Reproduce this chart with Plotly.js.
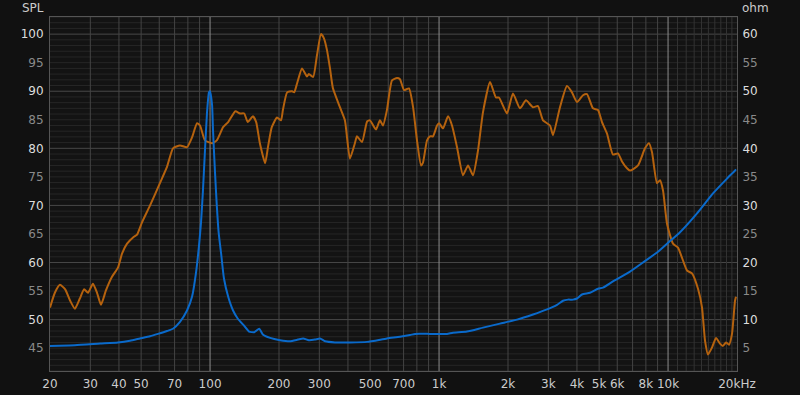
<!DOCTYPE html>
<html>
<head>
<meta charset="utf-8">
<script src="https://cdn.plot.ly/plotly-3.0.1.min.js"></script>
<style>
html,body{margin:0;padding:0;background:#111111;}
#chart{width:800px;height:395px;}
</style>
</head>
<body>
<div id="chart"></div>
<script>
// SPL response (dB)
const freqSpl = [20,21.0,22.1,23.3,24.5,25.7,27.0,28.2,29.3,30.8,32.1,33.4,35.1,37.3,39.6,41.3,43.4,46.1,48.0,50.4,54.7,60.4,64.9,68.9,73.9,79.3,83.4,87.7,90.4,95.0,102,107,114,120,129,135,141,146,154,159,165,174,179,186,196,204,208,217,228,233,240,252,265,270,282,293,305,314,324,334,344,369,388,408,429,438,461,485,499,530,552,569,592,623,655,675,703,739,770,801,834,851,886,913,941,980,1000,1041,1094,1139,1198,1272,1338,1407,1479,1555,1669,1772,1827,1980,2102,2256,2396,2572,2704,2843,3051,3144,3373,3618,3805,4002,4251,4426,4700,4943,5146,5411,5747,6043,6292,6617,6819,7392,7929,8256,8510,8946,9222,9506,9896,10510,11052,12100,12722,13514,14070,14502,14946,15550,16200,16858,17374,17906,18454,19020,19604,19800];
const spl = [52.1,54.7,56.1,55.3,53.3,51.9,53.7,55.3,54.7,56.3,54.7,52.6,55.1,57.5,59.1,61.6,63.3,64.4,64.9,67.0,70.0,73.9,76.8,80.0,80.5,80.2,81.9,84.4,84.0,81.4,80.9,81.4,83.7,84.6,86.5,86.1,86.1,84.6,85.6,84.6,80.9,77.4,80.2,83.7,85.4,84.9,86.7,89.8,90.0,89.8,91.4,94.0,92.6,93.0,92.5,96.3,100.0,99.3,97.2,94.0,90.5,87.2,84.9,78.2,80.9,82.1,81.1,84.7,84.9,83.3,84.9,84.0,86.7,91.9,92.3,92.1,90.2,90.5,87.2,81.4,77.0,77.5,81.4,82.1,82.1,84.0,84.4,83.5,85.6,84.0,80.2,75.3,77.0,75.3,79.6,86.3,91.6,88.9,88.9,86.1,89.6,87.0,88.4,87.2,87.4,84.9,84.0,82.3,87.2,90.9,89.8,88.1,89.3,89.5,87.0,86.7,84.6,82.6,78.9,79.1,77.7,76.5,76.1,77.0,80.0,80.9,79.3,73.9,74.4,72.6,66.8,63.3,62.6,58.6,58.1,55.4,52.1,46.3,43.9,45.1,46.8,45.8,45.4,46.0,45.6,47.5,53.3,54.0];

// Impedance (ohm)
const freqZ = [20,25.7,33.1,39.6,44.7,49.4,54.7,59.2,64.9,68.9,73.9,79.3,83.4,86.8,89.5,91.3,93.1,95.0,97.0,98.9,99.9,102,103,105,107,109,112,115,120,126,132,141,148,156,164,170,183,202,223,242,255,270,287,302,318,351,408,485,592,675,747,785,913,980,1083,1150,1324,1555,1845,2190,2572,2960,3274,3476,3656,3844,4002,4207,4561,4943,5199,5747,6819,7772,9038,9896,11278,13381,15712,18087,19604,19800];
const ohm = [5.4,5.5,5.8,6.0,6.3,6.7,7.1,7.5,8.0,8.4,9.6,11.6,14.0,18.2,23.0,27.0,32.6,39.6,46.3,49.8,50.0,47.7,43.2,36.1,30.0,25.3,21.2,17.2,14.0,11.6,10.2,8.9,7.9,7.8,8.4,7.4,6.8,6.4,6.2,6.5,6.7,6.4,6.5,6.7,6.2,6.0,6.0,6.1,6.7,7.0,7.3,7.5,7.5,7.5,7.5,7.7,7.9,8.6,9.3,10.0,10.9,11.8,12.6,13.3,13.5,13.5,13.7,14.4,14.7,15.4,15.6,16.7,18.4,20.0,21.9,23.3,25.3,28.6,32.1,34.7,36.1,36.3];

// Axis ticks
const xTickVals = [20,30,40,50,70,100,200,300,500,700,1000,2000,3000,4000,5000,6000,8000,10000,20000];
const xTickText = ['20','30','40','50','70','100','200','300','500','700','1k','2k','3k','4k','5k','6k','8k','10k','20kHz'];
const splTicks = [45,50,55,60,65,70,75,80,85,90,95,100];
const ohmTicks = [5,10,15,20,25,30,35,40,45,50,55,60];
const splRange = [41,103];
const ohmRange = [1,63];

function tickLabel(v){
  const c = (v % 10 === 0) ? '#dddddd' : '#8a8a8a';
  return '<span style="color:' + c + '">' + v + '</span>';
}

// Grid lines
const shapes = [];
for (let v = Math.ceil(splRange[0]); v <= splRange[1]; v++) {
  shapes.push({type:'line', xref:'paper', x0:0, x1:1, yref:'y', y0:v, y1:v, layer:'below',
    line:{color: (v % 10 === 0) ? '#484848' : '#262626', width:1}});
}
[10,100,1000].forEach(function(dec){
  for (let m = 2; m <= 9; m++) {
    const f = dec*m;
    if (f <= 20) continue;
    shapes.push({type:'line', yref:'paper', y0:0, y1:1, xref:'x', x0:f, x1:f, layer:'below',
      line:{color:'#444444', width:1}});
  }
});
for (let m = 11; m <= 19; m++) {
  const f = m*1000;
  shapes.push({type:'line', yref:'paper', y0:0, y1:1, xref:'x', x0:f, x1:f, layer:'below',
    line:{color:'#333333', width:1}});
}
[100,1000,10000].forEach(function(f){
  shapes.push({type:'line', yref:'paper', y0:0, y1:1, xref:'x', x0:f, x1:f, layer:'below',
    line:{color:'#8c8c8c', width:1}});
});

const font = {family:'DejaVu Sans, sans-serif', size:12, color:'#cccccc'};

const traces = [
  {x: freqSpl, y: spl, type:'scatter', mode:'lines', yaxis:'y',
   line:{color:'#b5620e', width:2, shape:'spline', smoothing:0.5}, hoverinfo:'skip'},
  {x: freqZ, y: ohm, type:'scatter', mode:'lines', yaxis:'y2',
   line:{color:'#0a6acb', width:2, shape:'spline', smoothing:0.5}, hoverinfo:'skip'}
];

const layout = {
  width:800, height:395,
  paper_bgcolor:'#111111', plot_bgcolor:'#131313',
  margin:{l:50, r:63, t:17, b:24},
  showlegend:false,
  font: font,
  xaxis:{type:'log', range:[Math.log10(20), Math.log10(20000)], showgrid:false, zeroline:false,
    tickvals:xTickVals, ticktext:xTickText, ticks:'outside', ticklen:2, tickcolor:'#111111',
    tickfont:{family:'DejaVu Sans, sans-serif', size:12, color:'#cccccc'},
    showline:true, linecolor:'#555555', linewidth:1, mirror:true, fixedrange:true},
  yaxis:{range:splRange, showgrid:false, zeroline:false,
    tickvals:splTicks, ticktext:splTicks.map(tickLabel), ticks:'outside', ticklen:3, tickcolor:'#111111',
    tickfont:{family:'DejaVu Sans, sans-serif', size:12},
    showline:true, linecolor:'#555555', linewidth:1, mirror:true, fixedrange:true},
  yaxis2:{range:ohmRange, overlaying:'y', side:'right', showgrid:false, zeroline:false,
    tickvals:ohmTicks, ticktext:ohmTicks.map(tickLabel), ticks:'outside', ticklen:2, tickcolor:'#111111',
    tickfont:{family:'DejaVu Sans, sans-serif', size:12}, showline:false, fixedrange:true},
  shapes: shapes,
  annotations:[
    {text:'SPL', xref:'paper', yref:'paper', x:0, y:1, xanchor:'right', yanchor:'bottom',
     xshift:-4, yshift:0, showarrow:false, font:{family:'DejaVu Sans, sans-serif', size:12, color:'#cccccc'}},
    {text:'ohm', xref:'paper', yref:'paper', x:1, y:1, xanchor:'left', yanchor:'bottom',
     xshift:3, yshift:0, showarrow:false, font:{family:'DejaVu Sans, sans-serif', size:12, color:'#cccccc'}}
  ]
};

Plotly.newPlot('chart', traces, layout, {displayModeBar:false, staticPlot:true});
</script>
</body>
</html>
